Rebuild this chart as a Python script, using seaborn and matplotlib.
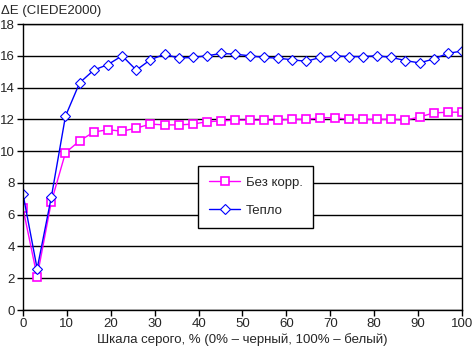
import numpy as np
import pandas as pd
import matplotlib
matplotlib.use("Agg")
import matplotlib.pyplot as plt
import seaborn as sns

# шкала серого, 32 точки от 0 до 100 %
gray = np.linspace(0, 100, 32)

bez_korr = [6.4, 2.1, 6.8, 9.9, 10.65, 11.2, 11.35, 11.25, 11.45, 11.7,
            11.65, 11.65, 11.7, 11.85, 11.9, 11.95, 11.95, 11.95, 11.95, 12.0,
            12.0, 12.1, 12.1, 12.0, 12.0, 12.0, 12.0, 11.95, 12.15, 12.4,
            12.45, 12.45]
teplo = [7.3, 2.6, 7.1, 12.2, 14.3, 15.1, 15.45, 16.0, 15.1, 15.75,
         16.1, 15.85, 15.9, 16.0, 16.15, 16.1, 16.0, 15.9, 15.85, 15.75,
         15.65, 15.9, 16.0, 15.95, 15.95, 16.0, 15.9, 15.7, 15.55, 15.8,
         16.15, 16.3]

df = pd.DataFrame({"x": gray, "Без корр.": bez_korr, "Тепло": teplo})

sns.set_style("white")
plt.rcParams["font.family"] = ["Liberation Sans", "DejaVu Sans"]
plt.rcParams["font.size"] = 9.5

fig = plt.figure(figsize=(4.72, 3.53), dpi=100)
ax = fig.add_axes([0.0487, 0.1218, 0.9301, 0.8102])

sns.lineplot(data=df, x="x", y="Без корр.", ax=ax, color="#FF00FF", lw=1,
             marker="s", markersize=6, markerfacecolor="white",
             markeredgecolor="#FF00FF", markeredgewidth=1.2, label="Без корр.")
sns.lineplot(data=df, x="x", y="Тепло", ax=ax, color="#0000FF", lw=1,
             marker="D", markersize=5, markerfacecolor="white",
             markeredgecolor="#0000FF", markeredgewidth=0.8, label="Тепло")

ax.set_xlim(0, 100)
ax.set_ylim(0, 18)
ax.set_xticks(range(0, 101, 10))
ax.set_yticks(range(0, 19, 2))
ax.yaxis.grid(True, color="black", lw=1)
ax.xaxis.grid(False)
ax.set_axisbelow(True)
for s in ax.spines.values():
    s.set_color("black")
    s.set_linewidth(1)
ax.tick_params(axis="both", direction="out", length=4, width=1, color="black",
               labelsize=9.5, pad=2, bottom=True, left=True)
ax.set_xlabel("Шкала серого, % (0% – черный, 100% – белый)", fontsize=9.5, labelpad=2)
ax.set_ylabel("")
fig.text(0.002, 0.985, "ΔE (CIEDE2000)", ha="left", va="top", fontsize=9.5)

leg = ax.legend(loc="upper left", bbox_to_anchor=(0.399, 0.503), frameon=True,
                fancybox=False, edgecolor="black", framealpha=1,
                borderpad=0.8, labelspacing=1.2, handlelength=2.4,
                handletextpad=0.4, borderaxespad=0, fontsize=9.5)
leg.get_frame().set_linewidth(1)

fig.savefig("out.png", dpi=100)
